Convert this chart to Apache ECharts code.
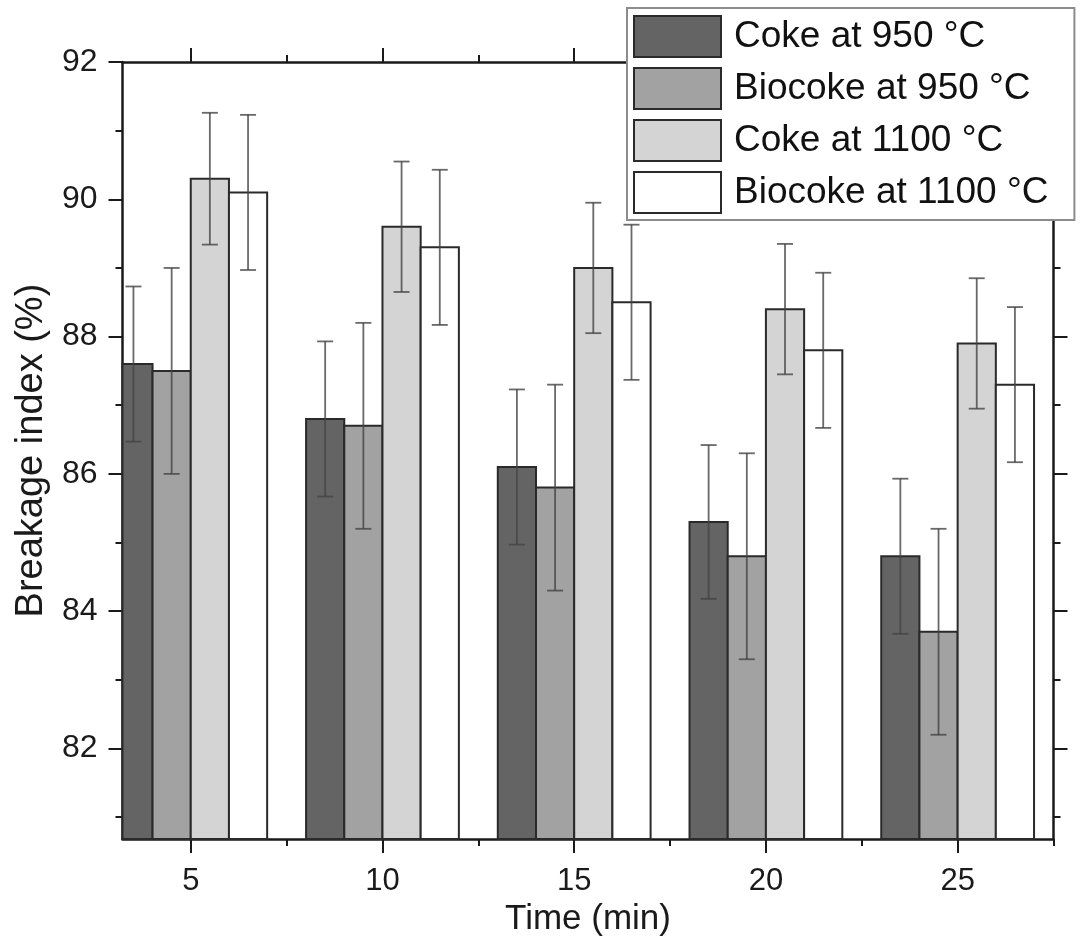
<!DOCTYPE html>
<html>
<head>
<meta charset="utf-8">
<script src="https://cdn.jsdelivr.net/npm/echarts@6/dist/echarts.min.js"></script>
<style>
  html, body { margin: 0; padding: 0; background: #fff; }
  #chart { width: 1082px; height: 942px; }
</style>
</head>
<body>
<div id="chart"></div>
<script>
// ---- data ----
const times = [5, 10, 15, 20, 25];
const seriesNames = ['Coke at 950 °C', 'Biocoke at 950 °C', 'Coke at 1100 °C', 'Biocoke at 1100 °C'];
const coke950 = [87.6, 86.8, 86.1, 85.3, 84.8];
const biocoke950 = [87.5, 86.7, 85.8, 84.8, 83.7];
const coke1100 = [90.3, 89.6, 89.0, 88.4, 87.9];
const biocoke1100 = [90.1, 89.3, 88.5, 87.8, 87.3];
const coke950Err = [1.13, 1.13, 1.13, 1.12, 1.13];
const biocoke950Err = [1.5, 1.5, 1.5, 1.5, 1.5];
const coke1100Err = [0.96, 0.95, 0.95, 0.95, 0.95];
const biocoke1100Err = [1.13, 1.13, 1.13, 1.13, 1.13];
const yMajorTicks = [82, 84, 86, 88, 90, 92];
const yMinorTicks = [81, 83, 85, 87, 89, 91];
const xMajorTicks = [5, 10, 15, 20, 25];
const xMinorTicks = [7.5, 12.5, 17.5, 22.5, 27.5];

// ---- styling ----
const FONT = 'Liberation Sans, Arial, sans-serif';
const fills = ['#646464', '#a2a2a2', '#d4d4d4', '#ffffff'];
const values = [coke950, biocoke950, coke1100, biocoke1100];
const errs = [coke950Err, biocoke950Err, coke1100Err, biocoke1100Err];
const BAR_W = 38.2;
const X_MIN = 3.22, X_MAX = 27.5, Y_MIN = 80.68, Y_MAX = 92;
const offsets = [-1.5, -0.5, 0.5, 1.5];

const lineStyle = { color: '#1a1a1a', width: 2.5 };
function xAxis(pos, ticks, len, showLine, showLabel) {
  return {
    type: 'value', position: pos, min: X_MIN, max: X_MAX,
    axisLine: { show: showLine, lineStyle: lineStyle },
    axisTick: { show: true, inside: false, length: len, customValues: ticks,
                lineStyle: { color: '#1a1a1a', width: 2 } },
    axisLabel: { show: showLabel, customValues: ticks, margin: 27,
                 fontFamily: FONT, fontSize: 31, color: '#1a1a1a' },
    splitLine: { show: false }
  };
}
function yAxis(pos, ticks, len, showLine, showLabel) {
  return {
    type: 'value', position: pos, min: Y_MIN, max: Y_MAX,
    axisLine: { show: showLine, lineStyle: lineStyle },
    axisTick: { show: true, inside: false, length: len, customValues: ticks,
                lineStyle: { color: '#1a1a1a', width: 2 } },
    axisLabel: { show: showLabel, customValues: ticks, margin: 25,
                 fontFamily: FONT, fontSize: 32, color: '#1a1a1a' },
    splitLine: { show: false }
  };
}

const xAxes = [
  Object.assign(xAxis('bottom', xMajorTicks, 14, true, true), {
    name: 'Time (min)', nameLocation: 'middle', nameGap: 59,
    nameTextStyle: { fontFamily: FONT, fontSize: 35, color: '#1a1a1a' }
  }),
  xAxis('bottom', xMinorTicks, 7, false, false),
  xAxis('top', xMajorTicks, 14, true, false),
  xAxis('top', xMinorTicks, 7, false, false)
];
const yAxes = [
  Object.assign(yAxis('left', yMajorTicks, 14, true, true), {
    name: 'Breakage index (%)', nameLocation: 'middle', nameGap: 70,
    nameTextStyle: { fontFamily: FONT, fontSize: 38, color: '#1a1a1a' }
  }),
  yAxis('left', yMinorTicks, 7, false, false),
  yAxis('right', yMajorTicks, 14, true, false),
  yAxis('right', yMinorTicks, 7, false, false)
];

const barSeries = seriesNames.map((name, si) => ({
  name: name,
  type: 'custom',
  xAxisIndex: 0, yAxisIndex: 0,
  itemStyle: { color: fills[si], borderColor: '#2a2a2a', borderWidth: 2 },
  emphasis: { disabled: true },
  silent: true,
  z: 2,
  data: times.map((t, i) => [t, values[si][i]]),
  renderItem: function (params, api) {
    const x = api.value(0);
    const top = api.coord([x, api.value(1)]);
    const base = api.coord([x, Y_MIN]);
    const cx = top[0] + offsets[si] * BAR_W;
    const cs = params.coordSys;
    const rect = echarts.graphic.clipRectByRect(
      { x: cx - BAR_W / 2, y: top[1], width: BAR_W, height: base[1] - top[1] },
      { x: cs.x, y: cs.y, width: cs.width, height: cs.height }
    );
    if (!rect) return null;
    return { type: 'rect', shape: rect, style: api.style() };
  }
}));

const errorSeries = seriesNames.map((name, si) => ({
  type: 'custom',
  xAxisIndex: 0, yAxisIndex: 0,
  z: 5,
  silent: true,
  data: times.map((t, i) => [t, values[si][i] - errs[si][i], values[si][i] + errs[si][i]]),
  renderItem: function (params, api) {
    const x = api.value(0);
    const lo = api.coord([x, api.value(1)]);
    const hi = api.coord([x, api.value(2)]);
    const cx = lo[0] + offsets[si] * BAR_W;
    const cap = 8;
    const st = { stroke: '#444', lineWidth: 1.8, opacity: 0.8 };
    return {
      type: 'group',
      children: [
        { type: 'line', shape: { x1: cx, y1: lo[1], x2: cx, y2: hi[1] }, style: st },
        { type: 'line', shape: { x1: cx - cap, y1: hi[1], x2: cx + cap, y2: hi[1] }, style: st },
        { type: 'line', shape: { x1: cx - cap, y1: lo[1], x2: cx + cap, y2: lo[1] }, style: st }
      ]
    };
  }
}));

const chart = echarts.init(document.getElementById('chart'), null, { renderer: 'canvas' });
chart.setOption({
  animation: false,
  backgroundColor: '#fff',
  grid: { left: 122.5, right: 28.5, top: 62, bottom: 98.5, containLabel: false },
  legend: {
    data: seriesNames,
    orient: 'vertical',
    left: 627, top: 8,
    padding: [7, 26, 6, 6],
    itemWidth: 87, itemHeight: 41, itemGap: 9,
    icon: 'rect',
    backgroundColor: '#fff',
    borderColor: '#8c8c8c', borderWidth: 2,
    textStyle: { fontFamily: FONT, fontSize: 37, lineHeight: 41, color: '#111', padding: [0, 0, 0, 8] },
    selectedMode: false,
    z: 10
  },
  xAxis: xAxes,
  yAxis: yAxes,
  series: barSeries.concat(errorSeries)
});
</script>
</body>
</html>
